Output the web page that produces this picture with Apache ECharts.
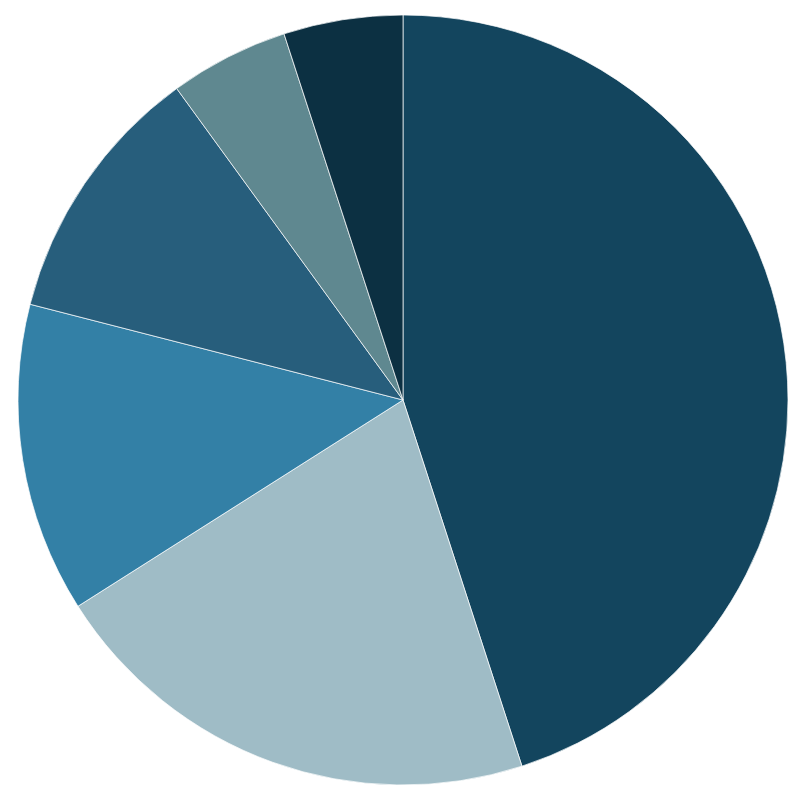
<!DOCTYPE html>
<html>
<head>
<meta charset="utf-8">
<script src="https://cdn.jsdelivr.net/npm/echarts@6/dist/echarts.min.js"></script>
<style>html,body{margin:0;padding:0;background:#fff}#c{width:805px;height:805px}</style>
</head>
<body>
<div id="c"></div>
<script>
const categories = ['A', 'B', 'C', 'D', 'E', 'F'];
const values = [45, 21, 13, 11, 5, 5];
const colors = ['#13455E', '#9FBCC6', '#3380A6', '#275E7C', '#5F8890', '#0C3042'];

const chart = echarts.init(document.getElementById('c'));
chart.setOption({
  animation: false,
  series: [{
    type: 'pie',
    center: [403, 400],
    radius: [0, 385],
    startAngle: 90,
    clockwise: true,
    label: { show: false },
    labelLine: { show: false },
    itemStyle: { borderColor: '#ffffff', borderWidth: 0.7 },
    data: categories.map((n, i) => ({ name: n, value: values[i], itemStyle: { color: colors[i] } }))
  }]
});
</script>
</body>
</html>
